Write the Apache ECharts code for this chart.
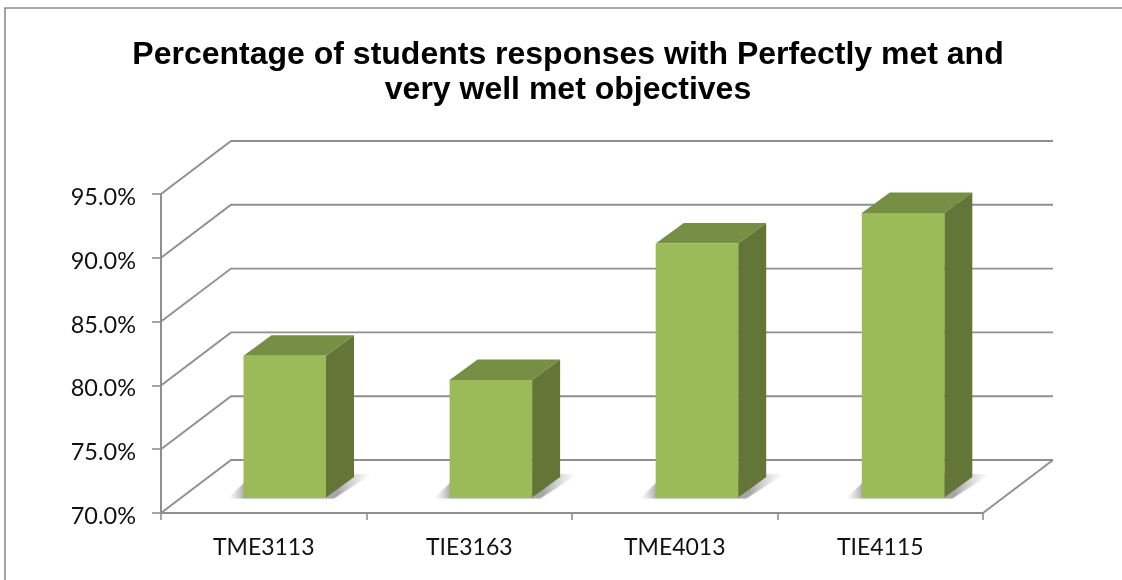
<!DOCTYPE html>
<html><head><meta charset="utf-8">
<style>html,body{margin:0;padding:0;background:#fff}#c{width:1122px;height:580px}</style>
<script src="https://cdn.jsdelivr.net/npm/echarts@6/dist/echarts.min.js"></script>
</head><body><div id="c"></div>
<script>
const titleText = 'Percentage of students responses with Perfectly met and\nvery well met objectives';
const categories = ['TME3113', 'TIE3163', 'TME4013', 'TIE4115'];
const values = [81.1, 79.2, 89.9, 92.3];
const gridValues = [70, 75, 80, 85, 90, 95];

const WALL_DX = 70, WALL_DY = -53;
const BAR_DX = 21, BAR_DY = -15.5, BAR_W = 82.5, SIDE_DX = 28, SIDE_DY = -20.5;
const BAR_SPREAD = 0.6;
const LINE = '#8f8f8f';

const chart = echarts.init(document.getElementById('c'), null, {renderer: 'canvas'});
chart.setOption({
  animation: false,
  backgroundColor: '#fff',
  title: {
    text: titleText, left: 563, top: 33, textAlign: 'center',
    textStyle: {fontFamily: 'Liberation Sans', fontWeight: 'bold', fontSize: 32, lineHeight: 35, color: '#000'}
  },
  graphic: [{type: 'polyline', shape: {points: [[5, 580], [5, 8], [1122, 8]]},
    style: {fill: 'none', stroke: '#8c8c8c', lineWidth: 1.6}, silent: true}],
  grid: {left: 161, top: 194, width: 822, height: 319},
  xAxis: {
    type: 'category', data: categories, boundaryGap: true,
    axisLine: {lineStyle: {color: LINE, width: 2}},
    axisTick: {show: true, alignWithLabel: false, length: 7, lineStyle: {color: LINE, width: 1.6}},
    axisLabel: {fontFamily: 'Lato', fontSize: 23, color: '#111', margin: 23}
  },
  yAxis: {
    type: 'value', min: 70, max: 95, interval: 5,
    axisLine: {show: true, lineStyle: {color: LINE, width: 2}},
    axisTick: {show: true, length: 9, lineStyle: {color: LINE, width: 1.6}},
    splitLine: {show: false},
    axisLabel: {fontFamily: 'Lato', fontSize: 23.5, color: '#111', margin: 25,
      verticalAlign: 'top', lineHeight: 7,
      formatter: v => v.toFixed(1) + '%'}
  },
  series: [
    {
      type: 'custom', coordinateSystem: 'cartesian2d', clip: false, silent: true, z: 1,
      encode: {y: 0},
      data: gridValues.map(v => [v]),
      renderItem(params, api) {
        const p = api.coord([0, api.value(0)]);
        const half = api.size([1, 0])[0] / 2;
        const left = p[0] - half;
        const right = api.coord([categories.length - 1, api.value(0)])[0] + half;
        const y = p[1];
        const children = [{
          type: 'polyline',
          shape: {points: [[left, y], [left + WALL_DX, y + WALL_DY], [right + WALL_DX, y + WALL_DY]]},
          style: {fill: 'none', stroke: LINE, lineWidth: 1.9}
        }];
        if (api.value(0) === 70) {
          children.push({
            type: 'line',
            shape: {x1: right, y1: y, x2: right + WALL_DX, y2: y + WALL_DY},
            style: {stroke: LINE, lineWidth: 1.9}
          });
        }
        return {type: 'group', children};
      }
    },
    {
      type: 'custom', coordinateSystem: 'cartesian2d', clip: false, silent: true, z: 2,
      encode: {x: 0, y: 1},
      data: values.map((v, i) => [i, v]),
      renderItem(params, api) {
        const i = api.value(0);
        const c = api.coord([i, api.value(1)]);
        const b = api.coord([i, 70]);
        const x0 = c[0] - BAR_W / 2 + BAR_DX + i * BAR_SPREAD, x1 = x0 + BAR_W;
        const yt = c[1] + BAR_DY, yb = b[1] + BAR_DY;
        const sx = SIDE_DX, sy = SIDE_DY;
        const gray = 'rgba(140,140,140,0.7)', clear = 'rgba(220,220,220,0)';
        return {type: 'group', children: [
          {type: 'polygon',
           shape: {points: [[x0 - 16, yb + 1], [x1 + 8, yb + 1], [x1 + sx + 18, yb + sy - 3], [x0 + 10, yb + sy - 3]]},
           style: {
             fill: new echarts.graphic.LinearGradient(0, 0, 1, 0, [
               {offset: 0, color: clear}, {offset: 0.12, color: gray},
               {offset: 0.76, color: gray}, {offset: 1, color: clear}
             ]),
             shadowBlur: 3, shadowColor: 'rgba(190,190,190,0.6)'
           }},
          {type: 'polygon',
           shape: {points: [[x0, yt], [x1, yt], [x1 + sx, yt + sy], [x0 + sx, yt + sy]]},
           style: {fill: '#778f44'}},
          {type: 'polygon',
           shape: {points: [[x1, yt], [x1 + sx, yt + sy], [x1 + sx, yb + sy], [x1, yb]]},
           style: {fill: '#637638'}},
          {type: 'rect',
           shape: {x: x0, y: yt, width: BAR_W, height: yb - yt},
           style: {fill: '#9bbb59'}}
        ]};
      }
    }
  ]
});
</script></body></html>
